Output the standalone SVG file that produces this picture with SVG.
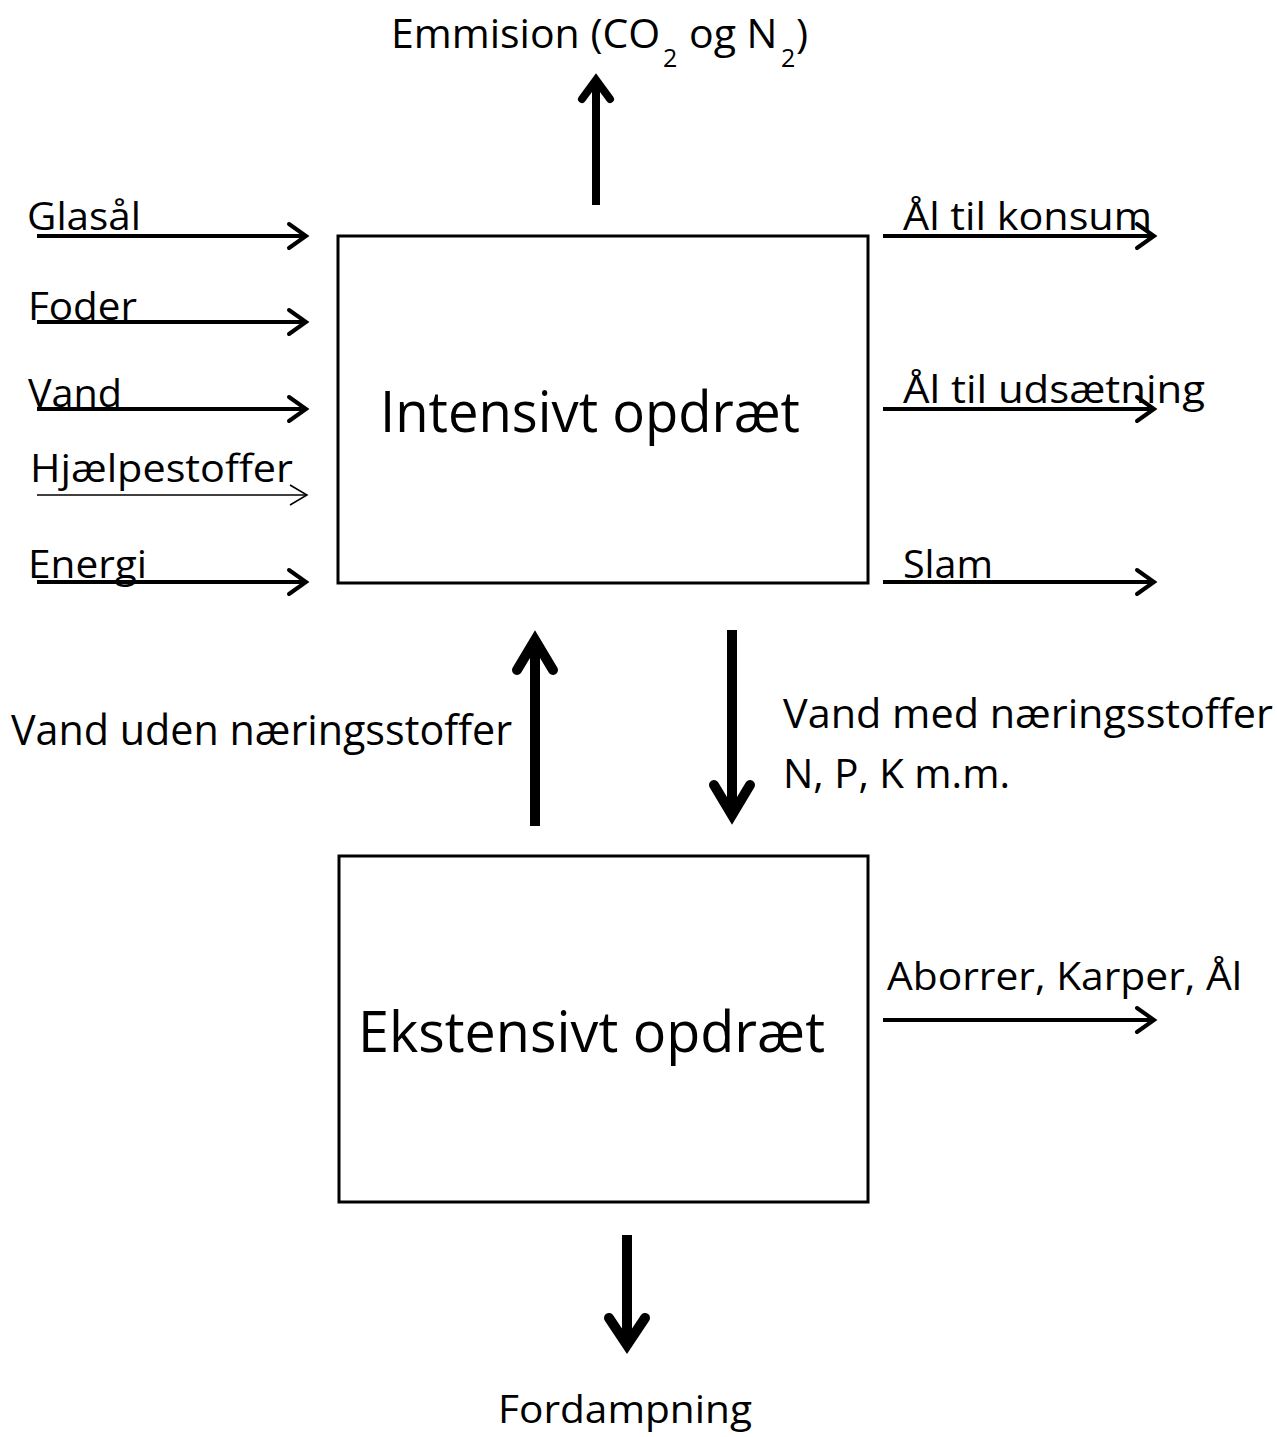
<svg xmlns="http://www.w3.org/2000/svg" width="1277" height="1437" viewBox="0 0 1277 1437">
<style>
text{font-family:"Open Sans","Noto Sans",sans-serif;fill:#000}
.box{fill:#fff;stroke:#000;stroke-width:3}
.sh{stroke:#000;stroke-width:4;fill:none}
.hd{stroke:#000;stroke-width:4;fill:none;stroke-linecap:round;stroke-linejoin:miter}
.thin{stroke:#000;stroke-width:1.5;fill:none}
.vs{stroke:#000;stroke-width:10;fill:none}
.vh{stroke:#000;stroke-width:10;fill:none;stroke-linecap:round;stroke-linejoin:miter;stroke-miterlimit:10}
.lbl{font-size:38px}
.big{font-size:56px}
</style>
<rect width="1277" height="1437" fill="#fff"/>
<g id="connectors">
  <!-- inputs -->
  <line class="sh" x1="37" y1="236" x2="304" y2="236"/><polyline class="hd" points="289,224 306,236 289,248"/>
  <line class="sh" x1="37" y1="322" x2="304" y2="322"/><polyline class="hd" points="289,310 306,322 289,334"/>
  <line class="sh" x1="37" y1="409" x2="304" y2="409"/><polyline class="hd" points="289,397 306,409 289,421"/>
  <line class="thin" x1="37" y1="495" x2="307" y2="495"/><polyline class="thin" points="290,485 307,495 290,505"/>
  <line class="sh" x1="37" y1="582" x2="304" y2="582"/><polyline class="hd" points="289,570 306,582 289,594"/>
  <!-- outputs -->
  <line class="sh" x1="883" y1="236" x2="1152" y2="236"/><polyline class="hd" points="1137,224 1154,236 1137,248"/>
  <line class="sh" x1="883" y1="409" x2="1152" y2="409"/><polyline class="hd" points="1137,397 1154,409 1137,421"/>
  <line class="sh" x1="883" y1="582" x2="1152" y2="582"/><polyline class="hd" points="1137,570 1154,582 1137,594"/>
  <line class="sh" x1="883" y1="1020" x2="1152" y2="1020"/><polyline class="hd" points="1137,1008 1154,1020 1137,1032"/>
  <!-- emission -->
  <line class="vs" style="stroke-width:8" x1="596" y1="205" x2="596" y2="82"/>
  <polyline class="vh" style="stroke-width:8" points="582,99 596,80 610,99"/>
  <!-- between boxes -->
  <line class="vs" x1="535" y1="826" x2="535" y2="642"/>
  <polyline class="vh" points="517,670 535,640 553,670"/>
  <line class="vs" x1="732" y1="630" x2="732" y2="812"/>
  <polyline class="vh" points="714,785 732,815 750,785"/>
  <!-- evaporation -->
  <line class="vs" x1="627" y1="1235" x2="627" y2="1342"/>
  <polyline class="vh" points="609,1318 627,1345 645,1318"/>
</g>
<g id="node-intensivt">
  <rect class="box" x="338" y="236" width="530" height="347"/>
  <text class="big" x="380" y="432" textLength="420" lengthAdjust="spacingAndGlyphs">Intensivt opdræt</text>
</g>
<g id="node-ekstensivt">
  <rect class="box" x="339" y="856" width="529" height="346"/>
  <text class="big" x="358" y="1052" textLength="467" lengthAdjust="spacingAndGlyphs">Ekstensivt opdræt</text>
</g>
<g id="labels">
  <text class="lbl" x="27" y="230" textLength="114" lengthAdjust="spacingAndGlyphs">Glasål</text>
  <text class="lbl" x="28" y="320" textLength="109" lengthAdjust="spacingAndGlyphs">Foder</text>
  <text class="lbl" x="28" y="407" textLength="94" lengthAdjust="spacingAndGlyphs">Vand</text>
  <text class="lbl" x="30" y="482" textLength="263" lengthAdjust="spacingAndGlyphs">Hjælpestoffer</text>
  <text class="lbl" x="28" y="578" textLength="119" lengthAdjust="spacingAndGlyphs">Energi</text>
  <text class="lbl" x="903" y="230" textLength="249" lengthAdjust="spacingAndGlyphs">Ål til konsum</text>
  <text class="lbl" x="903" y="403" textLength="302" lengthAdjust="spacingAndGlyphs">Ål til udsætning</text>
  <text class="lbl" x="903" y="578" textLength="90" lengthAdjust="spacingAndGlyphs">Slam</text>
  <text class="lbl" x="887" y="990" textLength="355" lengthAdjust="spacingAndGlyphs">Aborrer, Karper, Ål</text>
  <text style="font-size:42px" x="11" y="745" textLength="501" lengthAdjust="spacingAndGlyphs">Vand uden næringsstoffer</text>
  <text style="font-size:40px" x="783" y="728" textLength="490" lengthAdjust="spacingAndGlyphs">Vand med næringsstoffer</text>
  <text style="font-size:40px" x="783" y="788" textLength="227" lengthAdjust="spacingAndGlyphs">N, P, K m.m.</text>
  <text class="lbl" x="498" y="1423" textLength="254" lengthAdjust="spacingAndGlyphs">Fordampning</text>
  <text id="emission-label" style="font-size:41px" x="391" y="48">Emmision (CO<tspan x="663" y="67" style="font-size:25px">2</tspan><tspan x="689" y="48">og N</tspan><tspan x="781" y="67" style="font-size:25px">2</tspan><tspan x="796" y="48">)</tspan></text>
</g>
</svg>
